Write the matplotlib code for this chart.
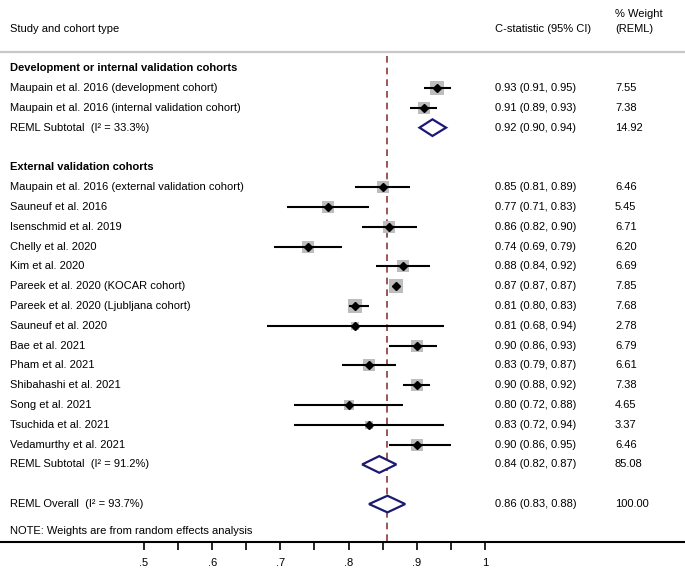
import matplotlib
matplotlib.use("Agg")
import matplotlib.pyplot as plt
from matplotlib.patches import Polygon
import numpy as np

plt.rcParams["font.family"] = ["Liberation Sans", "DejaVu Sans"]
plt.rcParams["font.size"] = 8

# ---- data ----
dev_labels = [
    "Maupain et al. 2016 (development cohort)",
    "Maupain et al. 2016 (internal validation cohort)",
]
dev_est = [0.93, 0.91]
dev_lo = [0.91, 0.89]
dev_hi = [0.95, 0.93]
dev_ci = ["0.93 (0.91, 0.95)", "0.91 (0.89, 0.93)"]
dev_weight = [7.55, 7.38]

ext_labels = [
    "Maupain et al. 2016 (external validation cohort)",
    "Sauneuf et al. 2016",
    "Isenschmid et al. 2019",
    "Chelly et al. 2020",
    "Kim et al. 2020",
    "Pareek et al. 2020 (KOCAR cohort)",
    "Pareek et al. 2020 (Ljubljana cohort)",
    "Sauneuf et al. 2020",
    "Bae et al. 2021",
    "Pham et al. 2021",
    "Shibahashi et al. 2021",
    "Song et al. 2021",
    "Tsuchida et al. 2021",
    "Vedamurthy et al. 2021",
]
ext_est = [0.85, 0.77, 0.86, 0.74, 0.88, 0.87, 0.81, 0.81, 0.90, 0.83, 0.90, 0.80, 0.83, 0.90]
ext_lo = [0.81, 0.71, 0.82, 0.69, 0.84, 0.87, 0.80, 0.68, 0.86, 0.79, 0.88, 0.72, 0.72, 0.86]
ext_hi = [0.89, 0.83, 0.90, 0.79, 0.92, 0.87, 0.83, 0.94, 0.93, 0.87, 0.92, 0.88, 0.94, 0.95]
ext_ci = [
    "0.85 (0.81, 0.89)", "0.77 (0.71, 0.83)", "0.86 (0.82, 0.90)", "0.74 (0.69, 0.79)",
    "0.88 (0.84, 0.92)", "0.87 (0.87, 0.87)", "0.81 (0.80, 0.83)", "0.81 (0.68, 0.94)",
    "0.90 (0.86, 0.93)", "0.83 (0.79, 0.87)", "0.90 (0.88, 0.92)", "0.80 (0.72, 0.88)",
    "0.83 (0.72, 0.94)", "0.90 (0.86, 0.95)",
]
ext_weight = [6.46, 5.45, 6.71, 6.20, 6.69, 7.85, 7.68, 2.78, 6.79, 6.61, 7.38, 4.65, 3.37, 6.46]

# pooled: (label, est, lo, hi, ci text, weight)
pooled_dev = ("REML Subtotal  (I\u00b2 = 33.3%)", 0.923, 0.904, 0.943, "0.92 (0.90, 0.94)", "14.92")
pooled_ext = ("REML Subtotal  (I\u00b2 = 91.2%)", 0.845, 0.82, 0.87, "0.84 (0.82, 0.87)", "85.08")
pooled_all = ("REML Overall  (I\u00b2 = 93.7%)", 0.857, 0.83, 0.883, "0.86 (0.83, 0.88)", "100.00")

xticks_major = [0.5, 0.6, 0.7, 0.8, 0.9, 1.0]
xtick_labels = [".5", ".6", ".7", ".8", ".9", "1"]
xticks_minor = [0.55, 0.65, 0.75, 0.85, 0.95]

# ---- layout (x in C-statistic units, y in row units) ----
X0, X1 = 0.2889, 1.2933
X_LABEL, X_CI, X_W = 0.3036, 1.0147, 1.1906
Y_TOP, Y_AXIS = -3.443, 23.90

fig = plt.figure(figsize=(6.85, 5.74), dpi=100)
ax = fig.add_axes([0, 32.3 / 574, 1, 1 - 32.3 / 574])
ax.set_xlim(X0, X1)
ax.set_ylim(Y_AXIS, Y_TOP)

navy = "#1a1a72"
square_col = "#bdbdbd"


def study_row(y, label, est, lo, hi, ci, w):
    ax.text(X_LABEL, y, label, va="center", ha="left")
    ax.text(X_CI, y, ci, va="center", ha="left")
    ax.text(X_W, y, f"{w:.2f}", va="center", ha="left")
    side = 4.75 * np.sqrt(w) * 0.72
    ax.scatter([est], [y], marker="s", s=side ** 2, color=square_col, zorder=2, linewidths=0)
    ax.hlines(y, lo, hi, color="black", lw=1.5, zorder=3)
    ax.plot([est], [y], marker="D", ms=4, color="black", zorder=4)


def pooled_row(y, p):
    label, est, lo, hi, ci, w = p
    ax.text(X_LABEL, y, label, va="center", ha="left")
    ax.text(X_CI, y, ci, va="center", ha="left")
    ax.text(X_W, y, w, va="center", ha="left")
    h = 0.42
    ax.add_patch(Polygon([(lo, y), (est, y - h), (hi, y), (est, y + h)], closed=True,
                         facecolor="white", edgecolor=navy, lw=1.6, zorder=5))


# header
ax.text(X_LABEL, -1.98, "Study and cohort type", va="center", ha="left")
ax.text(X_CI, -1.98, "C-statistic (95% CI)", va="center", ha="left")
ax.text(X_W, -2.74, "% Weight", va="center", ha="left")
ax.text(X_W, -2.0, "(REML)", va="center", ha="left")
ax.axhline(-0.82, color="#c8c8c8", lw=1.6)

# development cohorts
ax.text(X_LABEL, 0, "Development or internal validation cohorts", va="center", ha="left", fontweight="bold")
for i in range(len(dev_labels)):
    study_row(1 + i, dev_labels[i], dev_est[i], dev_lo[i], dev_hi[i], dev_ci[i], dev_weight[i])
pooled_row(3, pooled_dev)

# external cohorts
ax.text(X_LABEL, 5, "External validation cohorts", va="center", ha="left", fontweight="bold")
for i in range(len(ext_labels)):
    study_row(6 + i, ext_labels[i], ext_est[i], ext_lo[i], ext_hi[i], ext_ci[i], ext_weight[i])
pooled_row(20, pooled_ext)

pooled_row(22, pooled_all)
ax.text(X_LABEL, 23.36, "NOTE: Weights are from random effects analysis", va="center", ha="left")

# overall reference line
ax.vlines(pooled_all[1], -0.6, Y_AXIS, color="#8b3a3a", lw=1.2, linestyles=(0, (4, 3)), zorder=1)

# axis
for s in ["top", "left", "right"]:
    ax.spines[s].set_visible(False)
ax.spines["bottom"].set_linewidth(1.5)
ax.set_yticks([])
ax.set_xticks(xticks_major)
ax.set_xticklabels(xtick_labels)
ax.set_xticks(xticks_minor, minor=True)
ax.tick_params(axis="x", which="both", direction="out", length=6, width=1.2, pad=6, labelsize=8)

fig.savefig("out.png", dpi=100)
